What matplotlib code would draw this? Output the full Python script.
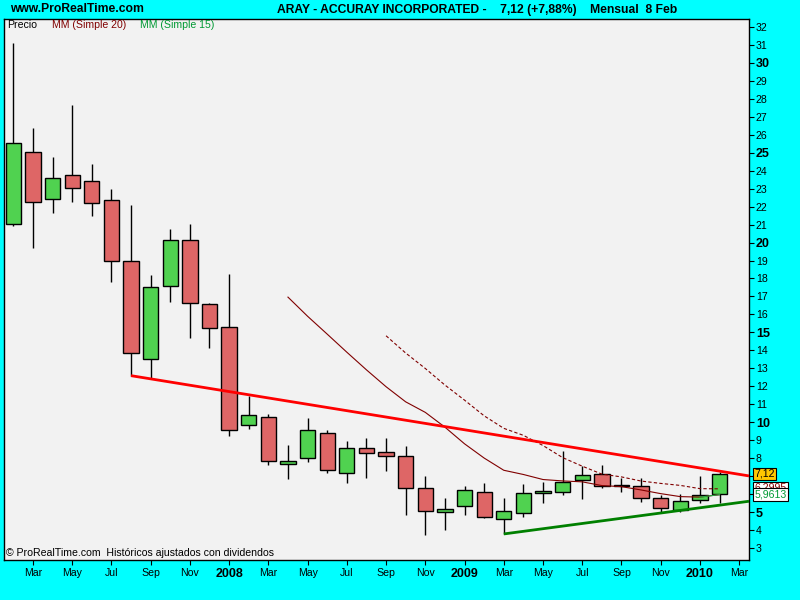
import matplotlib
matplotlib.use('Agg')
import matplotlib.pyplot as plt
import pandas as pd

# monthly candles, Feb 2007 -> Feb 2010 (index 0 = Feb 2007)
opens = [21.02, 25.03, 22.45, 23.74, 23.45, 22.34, 19.00, 13.51, 17.57, 20.12,
         16.56, 15.29, 9.83, 10.27, 7.66, 7.99, 9.39, 7.16, 8.54, 8.33,
         8.10, 6.32, 4.98, 5.33, 6.09, 4.60, 4.93, 6.04, 6.10, 6.77,
         7.10, 6.49, 6.43, 5.77, 5.10, 5.65, 5.99]
highs = [31.08, 26.40, 24.75, 27.65, 24.37, 22.97, 22.09, 18.20, 20.75, 21.04,
         16.63, 18.24, 11.46, 10.46, 8.74, 10.23, 9.58, 8.97, 9.12, 9.12,
         8.68, 7.01, 5.78, 6.46, 6.61, 5.76, 6.56, 6.67, 8.38, 7.56,
         7.62, 6.88, 6.88, 5.95, 6.01, 7.01, 7.21]
lows = [20.94, 19.72, 21.67, 22.28, 21.50, 17.82, 12.59, 12.45, 16.71, 14.66,
        14.12, 9.25, 9.61, 7.64, 6.86, 7.76, 7.15, 6.59, 6.92, 7.30,
        4.81, 3.70, 3.98, 4.81, 4.64, 3.78, 4.74, 5.49, 5.97, 5.74,
        6.32, 6.13, 5.58, 4.93, 5.02, 5.52, 5.52]
closes = [25.52, 22.24, 23.62, 23.01, 22.19, 18.95, 13.83, 17.51, 20.12, 16.61,
          15.23, 9.56, 10.38, 7.84, 7.82, 9.54, 7.32, 8.54, 8.28, 8.10,
          6.32, 5.04, 5.17, 6.21, 4.71, 5.04, 6.04, 6.17, 6.67, 7.05,
          6.43, 6.43, 5.77, 5.21, 5.60, 5.93, 7.12]

# hand drawn trend lines (month index, price)
res_x = [6, 37.5]
res_y = [12.59, 7.01]
sup_x = [25, 37.5]
sup_y = [3.78, 5.60]

tick_pos = list(range(1, 38, 2))
tick_labels = ['Mar', 'May', 'Jul', 'Sep', 'Nov', '2008', 'Mar', 'May', 'Jul', 'Sep',
               'Nov', '2009', 'Mar', 'May', 'Jul', 'Sep', 'Nov', '2010', 'Mar']
y_ticks = list(range(3, 33))
# 6 and 7 sit under the last-value boxes, so no label there
hidden_y = [6, 7]

last_labels = ['7,12', '6,2995', '5,9613']

GREEN = '#50d250'
RED = '#de6666'
MAROON = '#800000'
plt.rcParams['font.family'] = ['Liberation Sans', 'DejaVu Sans']

fig = plt.figure(figsize=(8, 6), dpi=100, facecolor='#00ffff')
ax = fig.add_axes([3.5 / 800, 40 / 600, 745.5 / 800, 541.5 / 600])
ax.set_facecolor('#f2f2f2')

n = len(closes)
xs = list(range(n))
body_lo = [min(o, c) for o, c in zip(opens, closes)]
body_h = [abs(c - o) for o, c in zip(opens, closes)]
cols = [GREEN if c >= o else RED for o, c in zip(opens, closes)]
cols[31] = RED

ax.vlines(xs, lows, highs, color='black', lw=1.0, zorder=2)
ax.bar(xs, body_h, bottom=body_lo, width=0.78, color=cols, edgecolor='black',
       lw=1.0, zorder=3)

# moving averages
s = pd.Series(closes)
sma15 = s.rolling(15).mean()
sma20 = s.rolling(20).mean()
ax.plot(xs, sma15, color=MAROON, lw=0.8, zorder=4)
for i in range(1, n):
    if sma15[i] > sma15[i - 1]:
        ax.plot([i - 1, i], [sma15[i - 1], sma15[i]], color='#22aa44', lw=0.8, zorder=4)
ax.plot(xs, sma20, color=MAROON, lw=0.8, ls=(0, (3, 2)), zorder=4)

# trend lines
ax.plot(res_x, res_y, color='#ff0000', lw=2.0, zorder=5, solid_capstyle='butt')
ax.plot(sup_x, sup_y, color='#008000', lw=2.0, zorder=5, solid_capstyle='butt')

ax.set_xlim(-0.5, 37.5)
ax.set_ylim(2.33, 32.47)

ax.yaxis.tick_right()
ax.set_yticks(y_ticks)
ax.set_yticklabels(['' if v in hidden_y else str(v) for v in y_ticks])
for v, lab in zip(y_ticks, ax.get_yticklabels()):
    if v % 5 == 0:
        lab.set_fontweight('bold')
        lab.set_fontsize(9)
    else:
        lab.set_fontsize(7.6)
ax.tick_params(axis='y', direction='out', length=3.5, width=0.8, pad=1.5, colors='black')

ax.set_xticks(tick_pos)
ax.set_xticklabels(tick_labels)
for lab in ax.get_xticklabels():
    if lab.get_text().isdigit():
        lab.set_fontweight('bold')
        lab.set_fontsize(9)
    else:
        lab.set_fontsize(7.6)
ax.tick_params(axis='x', direction='out', length=3.5, width=0.8, pad=2.5, colors='black')

for sp in ax.spines.values():
    sp.set_color('black')
    sp.set_linewidth(1.0)

# last value boxes on the price scale (the MM20 box sits under the MM15 one)
tr = ax.get_yaxis_transform()
ax.text(1.007, 7.12, last_labels[0], transform=tr, fontsize=7.6, va='center', ha='left',
        clip_on=False, zorder=10,
        bbox=dict(boxstyle='square,pad=0.12', fc='#ffc800', ec='black', lw=0.8))
ax.text(1.007, sma20.iloc[-1] + 0.05, last_labels[1], transform=tr, fontsize=7.6,
        va='center', ha='left', color=MAROON, clip_on=False, zorder=10,
        bbox=dict(boxstyle='square,pad=0.12', fc='white', ec='black', lw=0.8))
ax.text(1.007, sma15.iloc[-1], last_labels[2], transform=tr, fontsize=7.6, va='center',
        ha='left', color='#009933', clip_on=False, zorder=11,
        bbox=dict(boxstyle='square,pad=0.12', fc='white', ec='black', lw=0.8))

# header
fig.text(10 / 800, 1 - 9.5 / 600, 'www.ProRealTime.com', fontsize=8.7, fontweight='bold',
         va='center', ha='left')
fig.text(277 / 800, 1 - 9.5 / 600,
         'ARAY - ACCURAY INCORPORATED -    7,12 (+7,88%)    Mensual  8 Feb',
         fontsize=8.7, fontweight='bold', va='center', ha='left')

# legend line inside the chart
fig.text(7.5 / 800, 1 - 24.5 / 600, 'Precio', fontsize=7.6, va='center', ha='left')
fig.text(51.5 / 800, 1 - 24.5 / 600, 'MM (Simple 20)', fontsize=7.6, va='center',
         ha='left', color=MAROON)
fig.text(140.5 / 800, 1 - 24.5 / 600, 'MM (Simple 15)', fontsize=7.6, va='center',
         ha='left', color='#009933')

fig.text(6 / 800, 1 - 553.5 / 600, '\u00a9 ProRealTime.com  Hist\u00f3ricos ajustados con dividendos',
         fontsize=7.6, va='center', ha='left')

fig.savefig('out.png', dpi=100, facecolor=fig.get_facecolor())
